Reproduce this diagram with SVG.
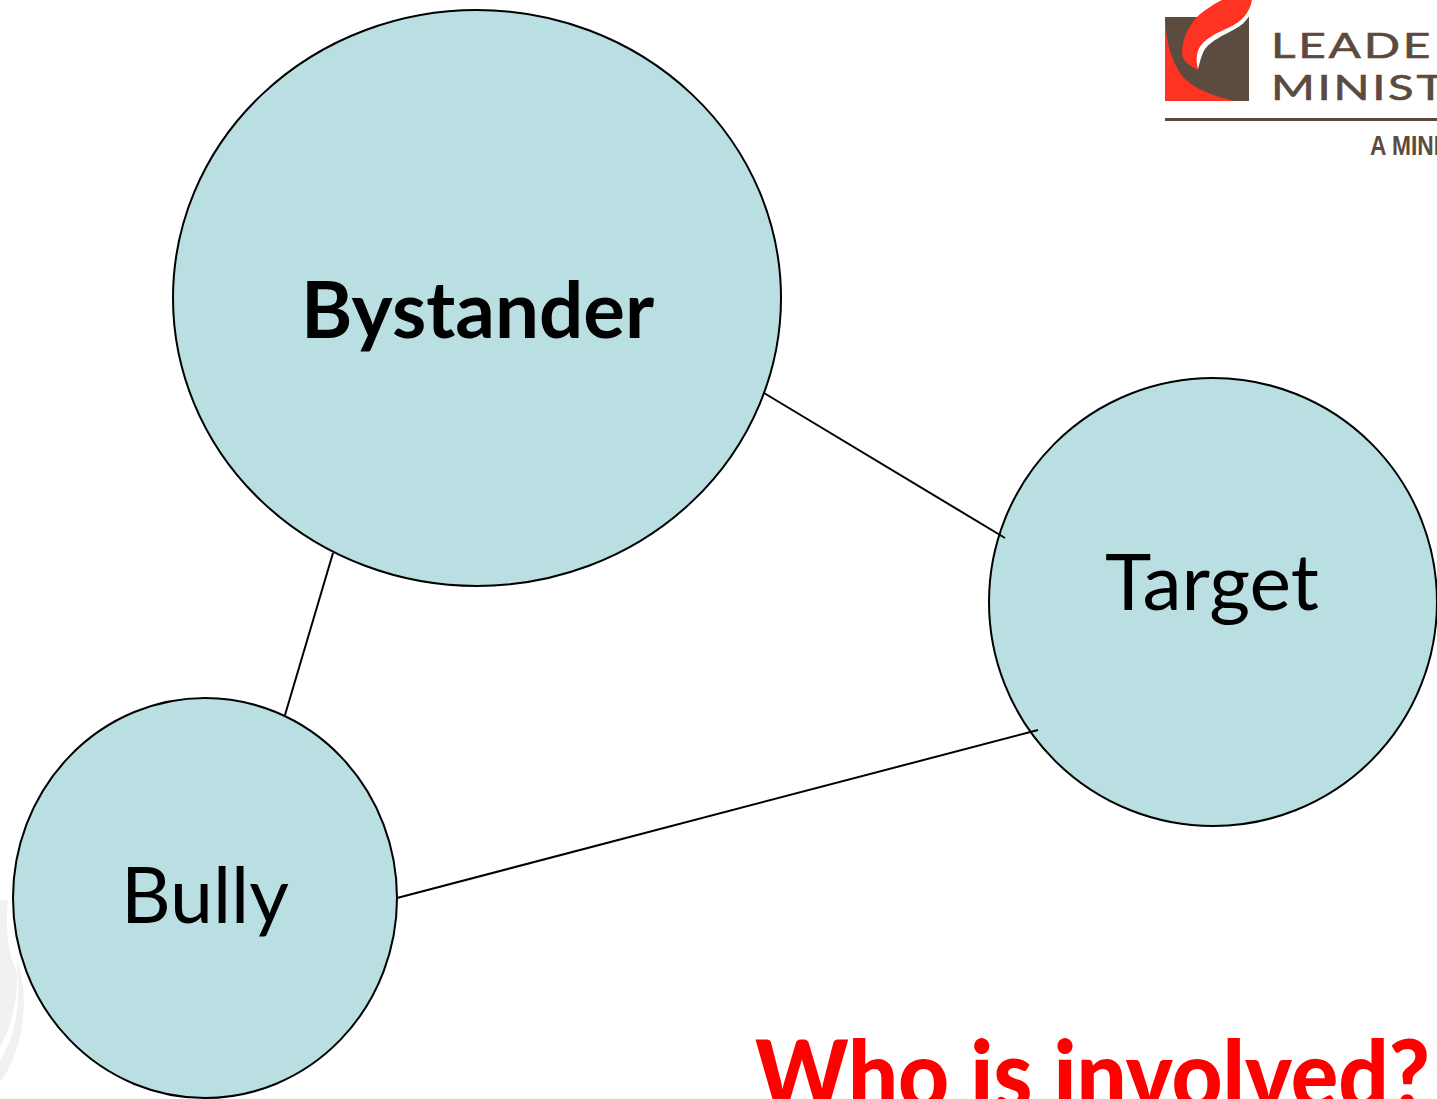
<svg xmlns="http://www.w3.org/2000/svg" width="1437" height="1099" viewBox="0 0 1437 1099">
<style>
.n{fill:#b9dfe2;stroke:#000;stroke-width:2}
.t{font-family:Lato,"Open Sans",sans-serif;fill:#000}
.c{stroke:#000;stroke-width:2;fill:none}
.l{font-family:Lato,sans-serif;fill:#5b4a3d;font-size:35px;letter-spacing:2px;stroke:#5b4a3d;stroke-width:.6}
</style>
<rect width="1437" height="1099" fill="#fff"/>
<g id="watermark" fill="#f1f1f1">
<path d="M0 900H8C5 930 8 955 17 973C18 1000 11 1028 0 1047Z"/>
<path d="M17 960C28 990 28 1045 0 1082V1060C14 1040 22 1000 17 973Z"/>
</g>
<g id="logo">
<rect x="1165" y="17" width="84" height="84" fill="#5c4c3f"/>
<path d="M1165 17C1166 40 1170 60 1183 77C1195 90 1215 96 1234 101H1165Z" fill="#ff3322"/>
<path d="M1222 0C1210 6 1204 11 1198 16C1188 26 1182 40 1182 53C1182 61 1190 66 1198 70C1199 55 1205 42 1222 33C1238 26 1250 18 1255 0Z" fill="#ff3322"/>
<path d="M1252 0C1250 12 1242 22 1228 28C1212 35 1199 42 1197 55C1196 60 1197 65 1198 69C1200 62 1201 56 1205 49C1212 40 1224 35 1235 29C1247 23 1253 12 1255 0Z" fill="#fff"/>
<rect x="1165" y="118" width="272" height="3" fill="#5c4c3f"/>
<text class="l" x="1271" y="58" textLength="162" lengthAdjust="spacingAndGlyphs">LEADE</text>
<text class="l" x="1271" y="100" textLength="176" lengthAdjust="spacingAndGlyphs">MINIST</text>
<text x="1370" y="155" font-family="Liberation Sans,sans-serif" font-weight="700" font-size="27" fill="#5c4c3f" textLength="70" lengthAdjust="spacingAndGlyphs">A MINI</text>
</g>
<g id="bystander">
<ellipse class="n" cx="477" cy="298" rx="304" ry="288"/>
<text class="t" x="301" y="338" font-size="78" font-weight="700" textLength="353" lengthAdjust="spacingAndGlyphs">Bystander</text>
</g>
<g id="target">
<circle class="n" cx="1213" cy="602" r="224"/>
<text class="t" x="1105" y="610" font-size="78" textLength="214" lengthAdjust="spacingAndGlyphs">Target</text>
</g>
<g id="bully">
<ellipse class="n" cx="205" cy="898" rx="192" ry="200"/>
<text class="t" x="121" y="923" font-size="78" textLength="168" lengthAdjust="spacingAndGlyphs">Bully</text>
</g>
<g id="connectors">
<line class="c" x1="764" y1="393" x2="1005" y2="538"/>
<line class="c" x1="333" y1="553" x2="285" y2="715"/>
<line class="c" x1="397" y1="898" x2="1038" y2="730"/>
</g>
<text id="title" x="755" y="1109" font-family="Lato,sans-serif" font-weight="900" font-size="96" fill="#ff0000" textLength="675" lengthAdjust="spacingAndGlyphs">Who is involved?</text>
</svg>
